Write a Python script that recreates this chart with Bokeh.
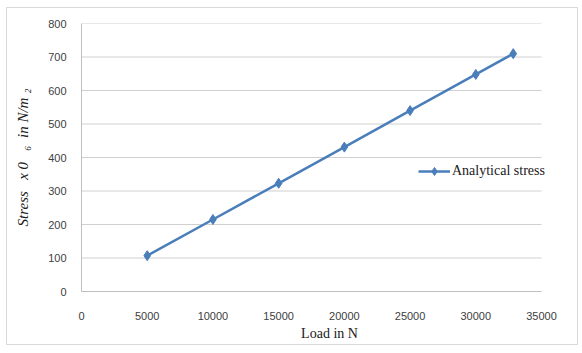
from bokeh.plotting import figure
from bokeh.models import Legend, LegendItem, FixedTicker, Range1d
from bokeh.embed import file_html
from bokeh.resources import INLINE

load_n = [5000, 10000, 15000, 20000, 25000, 30000, 32850]
stress = [107, 215, 323, 431, 540, 648, 710]
x_ticks = [0, 5000, 10000, 15000, 20000, 25000, 30000, 35000]
y_ticks = [0, 100, 200, 300, 400, 500, 600, 700, 800]
series_name = "Analytical stress"
x_title = "Load in N"
y_title = "Stress\u00a0\u00a0 x 0\u00a0\u00a0 \u2086\u00a0 in N/m \u2082"

OX, OY = 7, 8  # outer offset of the chart box in the window
W, H = 570, 336
x_max_axis = 35000
x_max_view = 35000 * (OX + W - 81) / (541 - 81)

p = figure(width=W, height=H, output_backend="svg", toolbar_location=None,
           x_range=Range1d(0, x_max_view), y_range=Range1d(0, 800),
           min_border_left=81 - OX, min_border_right=0, min_border_top=23 - OY,
           min_border_bottom=H - (291 - OY))
p.margin = (OY, 0, 0, OX)
p.styles = {"outline": "1px solid #d9d9d9"}
p.background_fill_color = "white"
p.border_fill_color = "white"
p.outline_line_color = None

# horizontal gridlines restricted to the plot area
p.segment(x0=[0] * len(y_ticks), x1=[x_max_axis] * len(y_ticks), y0=y_ticks, y1=y_ticks,
          line_color="#d0d0d0", line_width=1)

line_color = "#4a7ebb"
r_line = p.line(load_n, stress, line_color=line_color, line_width=2.5)
r_pts = p.scatter(load_n, stress, marker="diamond", size=10, fill_color=line_color, line_color=line_color)

p.xaxis.ticker = FixedTicker(ticks=x_ticks)
p.yaxis.ticker = FixedTicker(ticks=y_ticks)
p.xaxis.bounds = (0, x_max_axis)
for ax in (p.xaxis[0], p.yaxis[0]):
    ax.major_tick_line_color = None
    ax.minor_tick_line_color = None
    ax.axis_line_color = "#bfbfbf"
    ax.axis_line_width = 1
    ax.major_label_text_font = "Liberation Sans"
    ax.major_label_text_font_size = "11px"
    ax.major_label_text_color = "#404040"
    ax.axis_label_text_font = "Liberation Serif"
    ax.axis_label_text_font_size = "15px"
    ax.axis_label_text_color = "#202020"
p.xaxis.major_label_standoff = 14
p.yaxis.major_label_standoff = 9
p.xaxis.axis_label = x_title
p.xaxis.axis_label_text_font_size = "14px"
p.xaxis.axis_label_text_font_style = "normal"
p.xaxis.axis_label_standoff = 3
p.yaxis.axis_label = y_title
p.yaxis.axis_label_text_font_style = "italic"
p.yaxis.axis_label_standoff = 14
p.xgrid.grid_line_color = None
p.ygrid.grid_line_color = None

legend = Legend(items=[LegendItem(label=series_name, renderers=[r_line, r_pts])],
                location=(337, 110), orientation="vertical")
legend.label_text_font = "Liberation Serif"
legend.label_text_font_size = "14px"
legend.label_text_color = "#202020"
legend.glyph_width = 32
legend.label_standoff = 2
legend.padding = 0
legend.margin = 0
legend.border_line_color = None
legend.background_fill_alpha = 0
p.add_layout(legend, "center")

open("out.html", "w").write(file_html(p, INLINE))
